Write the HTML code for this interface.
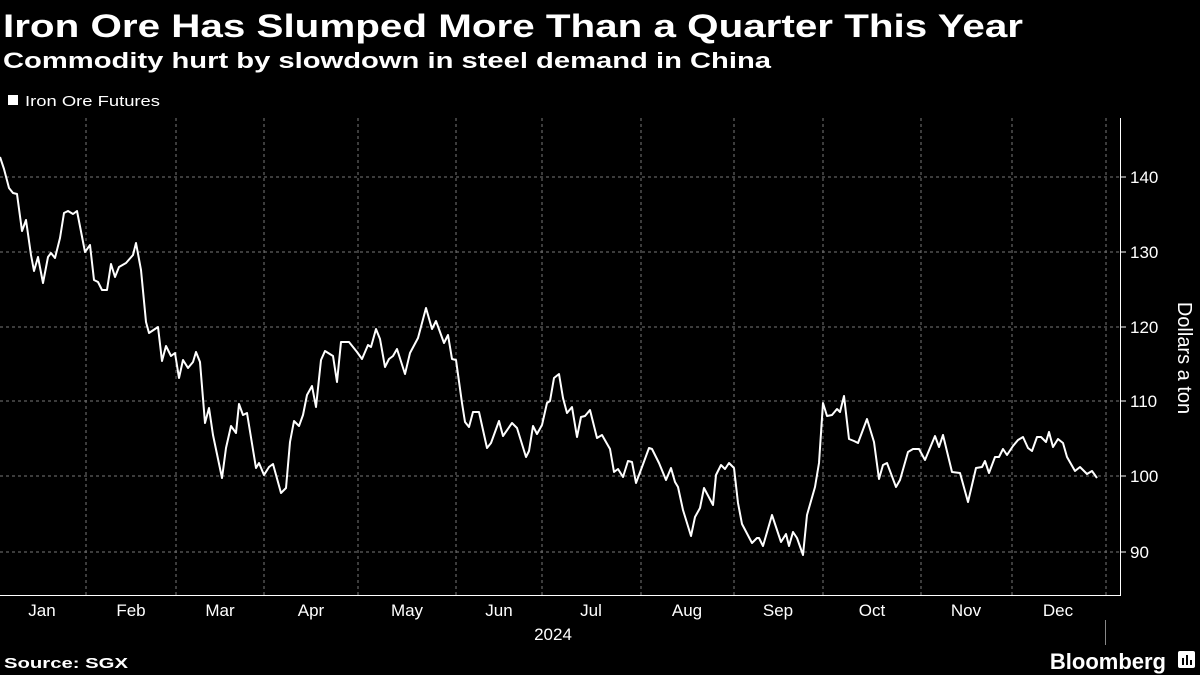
<!DOCTYPE html>
<html><head><meta charset="utf-8"><style>
html,body{margin:0;padding:0;background:#000;width:1200px;height:675px;overflow:hidden}
svg{display:block;font-family:"Liberation Sans",sans-serif}
</style></head><body>
<svg width="1200" height="675" viewBox="0 0 1200 675">
<rect width="1200" height="675" fill="#000"/>
<text x="3" y="37" fill="#fff" font-size="32" font-weight="bold" textLength="1020" lengthAdjust="spacingAndGlyphs">Iron Ore Has Slumped More Than a Quarter This Year</text>
<text x="3" y="68" fill="#fff" font-size="22" font-weight="bold" textLength="768" lengthAdjust="spacingAndGlyphs">Commodity hurt by slowdown in steel demand in China</text>
<rect x="8" y="95" width="10" height="10" fill="#fff"/>
<text x="25" y="106" fill="#fff" font-size="15" textLength="135" lengthAdjust="spacingAndGlyphs">Iron Ore Futures</text>
<g stroke="#777" stroke-width="1" stroke-dasharray="3,3">
<line x1="0" y1="177" x2="1120" y2="177"/><line x1="0" y1="252" x2="1120" y2="252"/>
<line x1="0" y1="327" x2="1120" y2="327"/><line x1="0" y1="401" x2="1120" y2="401"/>
<line x1="0" y1="476" x2="1120" y2="476"/><line x1="0" y1="552" x2="1120" y2="552"/>
<line x1="86" y1="118" x2="86" y2="595"/><line x1="176" y1="118" x2="176" y2="595"/>
<line x1="264" y1="118" x2="264" y2="595"/><line x1="358" y1="118" x2="358" y2="595"/>
<line x1="456" y1="118" x2="456" y2="595"/><line x1="542" y1="118" x2="542" y2="595"/>
<line x1="641" y1="118" x2="641" y2="595"/><line x1="734" y1="118" x2="734" y2="595"/>
<line x1="823" y1="118" x2="823" y2="595"/><line x1="921" y1="118" x2="921" y2="595"/>
<line x1="1012" y1="118" x2="1012" y2="595"/><line x1="1106" y1="118" x2="1106" y2="595"/>
</g>
<g stroke="#fff" stroke-width="1">
<line x1="0" y1="595.5" x2="1121" y2="595.5"/>
<line x1="1120.5" y1="118" x2="1120.5" y2="596"/>
<line x1="1120" y1="177" x2="1126" y2="177"/><line x1="1120" y1="252" x2="1126" y2="252"/>
<line x1="1120" y1="327" x2="1126" y2="327"/><line x1="1120" y1="401" x2="1126" y2="401"/>
<line x1="1120" y1="476" x2="1126" y2="476"/><line x1="1120" y1="552" x2="1126" y2="552"/>
<line x1="1105.5" y1="620" x2="1105.5" y2="645" stroke="#888"/>
</g>
<g fill="#fff" font-size="17">
<text x="1130" y="183">140</text><text x="1130" y="258">130</text><text x="1130" y="333">120</text>
<text x="1130" y="407">110</text><text x="1130" y="482">100</text><text x="1130" y="558">90</text>
</g>
<text transform="translate(1178,358) rotate(90)" fill="#fff" font-size="20" text-anchor="middle">Dollars a ton</text>
<g fill="#fff" font-size="17" text-anchor="middle">
<text x="42" y="616">Jan</text><text x="131" y="616">Feb</text><text x="220" y="616">Mar</text>
<text x="311" y="616">Apr</text><text x="407" y="616">May</text><text x="499" y="616">Jun</text>
<text x="591" y="616">Jul</text><text x="687" y="616">Aug</text><text x="778" y="616">Sep</text>
<text x="872" y="616">Oct</text><text x="966" y="616">Nov</text><text x="1058" y="616">Dec</text>
<text x="553" y="640">2024</text>
</g>
<polyline fill="none" stroke="#fff" stroke-width="2" stroke-linejoin="round" points="0,157 4,169 9,188 13,193 17,194 22,231 26,220 31,255 34,271 38,257 43,283 48,257 51,253 55,258 60,238 64,213 68,211 73,214 77,211 85,252 90,245 94,280 98,282 102,290 107,290 111,264 115,277 119,267 126,263 133,255 136,243 141,270 146,322 149,333 158,327 162,361 166,346 171,356 175,353 179,378 183,360 188,368 193,362 196,352 200,362 205,423 209,408 213,435 222,478 226,448 231,426 236,433 239,404 243,415 247,413 256,468 259,463 264,475 269,467 273,464 281,493 286,488 290,442 294,421 299,426 303,415 307,395 312,386 316,407 321,360 325,351 333,356 337,382 341,342 349,342 357,352 362,359 368,345 371,347 376,329 380,339 385,367 389,359 393,356 397,349 405,374 410,353 418,338 426,308 432,329 436,321 444,343 448,335 452,359 456,360 462,403 465,422 469,427 473,412 479,412 487,448 491,443 499,421 503,436 512,423 517,428 526,457 529,451 533,426 537,434 542,425 547,403 550,401 554,378 559,374 563,398 567,413 572,407 577,437 581,417 585,416 590,410 597,438 602,435 610,449 614,472 618,469 623,477 628,461 632,462 636,483 642,467 649,448 652,449 659,463 666,480 671,468 675,482 678,487 683,510 691,536 695,517 700,508 704,488 713,505 716,475 721,465 725,469 729,463 734,468 738,503 742,524 752,543 757,538 759,538 763,546 772,515 781,542 786,534 789,546 793,532 797,538 803,555 807,515 815,487 819,463 823,403 827,416 832,415 837,409 840,412 844,396 849,439 854,441 858,443 867,419 874,442 879,479 883,465 887,463 896,487 900,480 908,452 913,449 919,449 925,460 935,436 939,447 943,435 952,472 960,473 968,502 976,468 982,467 985,461 989,473 995,457 999,457 1003,449 1007,455 1013,446 1018,440 1023,437 1028,448 1032,451 1037,437 1041,437 1046,442 1049,432 1053,447 1058,439 1063,443 1067,457 1075,471 1080,467 1087,474 1092,471 1097,478"/>
<text x="4" y="668" fill="#fff" font-size="15" font-weight="bold" textLength="124" lengthAdjust="spacingAndGlyphs">Source: SGX</text>
<text x="1166" y="669" fill="#fff" font-size="22" font-weight="bold" text-anchor="end">Bloomberg</text>
<rect x="1178" y="651" width="17" height="17" rx="2" fill="#fff"/>
<g stroke="#000" stroke-width="2"><line x1="1183" y1="665" x2="1183" y2="658"/><line x1="1187" y1="665" x2="1187" y2="655"/><line x1="1191" y1="665" x2="1191" y2="660"/></g>
</svg>
</body></html>
